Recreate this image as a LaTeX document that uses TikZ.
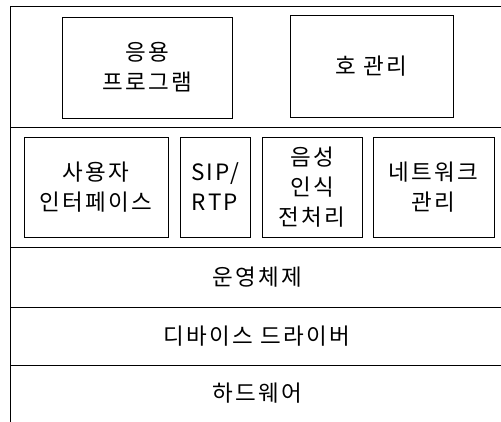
\documentclass[tikz,border=0pt]{standalone}
\usepackage{fontspec}
\newfontfamily\kr[LetterSpace=10]{Noto Sans CJK KR}
\begin{document}
\begin{tikzpicture}[
    x=1pt, y=-1pt,
    box/.style={draw, line width=0.8pt, align=center, inner sep=0pt, font=\kr\fontsize{22.5}{30}\selectfont},
    layer/.style={font=\kr\fontsize{22.5}{30}\selectfont},
    rule/.style={line width=0.8pt}
]
    \useasboundingbox (0,0) rectangle (501,422);

    % outer frame and layer lines
    \coordinate (tl) at (10,6);
    \coordinate (bl) at (10,422);
    \draw[rule] (bl) -- (tl) -- (501,6);
    \draw[rule] (10,127) -- (501,127);
    \draw[rule] (10,247) -- (501,247);
    \draw[rule] (10,307) -- (501,307);
    \draw[rule] (10,365) -- (501,365);

    % application layer
    \node[box, minimum width=170pt, minimum height=101pt] (app) at (147,67.5) {응용\\프로그램};
    \node[box, minimum width=163pt, minimum height=102pt] (call) at (371.5,66) {호 관리};

    % middleware layer
    \node[box, minimum width=144pt, minimum height=100pt] (ui) at (96,187) {사용자\\인터페이스};
    \node[box, minimum width=70pt, minimum height=100pt] (sip) at (215,187) {SIP/\\RTP};
    \node[box, minimum width=100pt, minimum height=100pt] (speech) at (312,187) {음성\\인식\\전처리};
    \node[box, minimum width=121pt, minimum height=100pt] (net) at (433.5,187) {네트워크\\관리};

    % lower layers
    \node[layer] (os) at (257,277) {운영체제};
    \node[layer] (driver) at (257,336) {디바이스 드라이버};
    \node[layer] (hw) at (257,393) {하드웨어};
\end{tikzpicture}
\end{document}
